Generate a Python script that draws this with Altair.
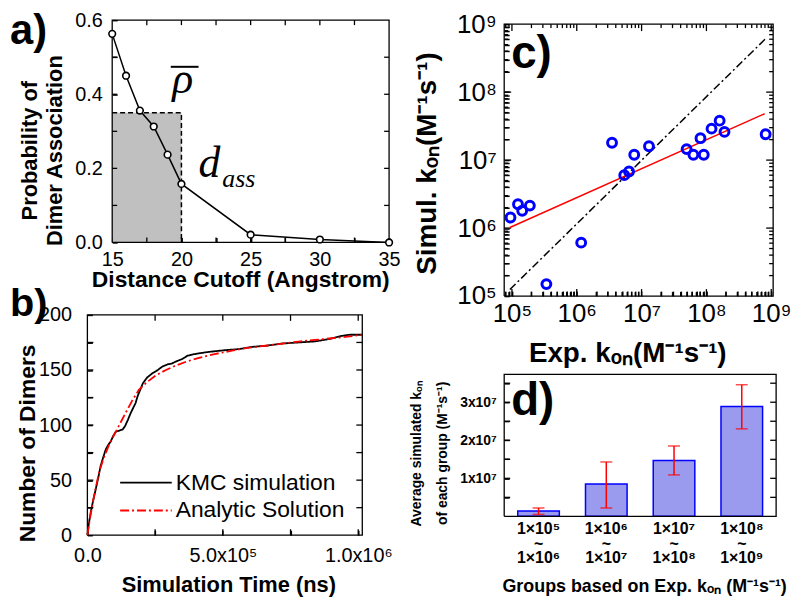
import altair as alt
import pandas as pd

SANS = "Liberation Sans"
SERIF = "Liberation Serif"

# ---------------- data ----------------
# panel a
a_cutoff = [15, 16, 17, 18, 19, 20, 25, 30, 35]
a_prob = [0.563, 0.450, 0.356, 0.313, 0.237, 0.158, 0.021, 0.008, 0.0]
a_box_x = [15, 20, 20]
a_box_y = [0.35, 0.35, 0.0]
a_xticks = [15, 17.5, 20, 22.5, 25, 27.5, 30, 32.5, 35]
a_yticks = [0.0, 0.1, 0.2, 0.3, 0.4, 0.5, 0.6]
a_extent_x = [15, 35]
a_extent_y = [0.0, 0.6]

# panel b
b_series = ["KMC simulation", "Analytic Solution"]
b_kmc_t = [0, 5e3, 1.25e4, 2e4, 3.1e4, 4e4, 4.9e4, 6e4, 6.8e4, 7.7e4,
           8.6e4, 9.5e4, 1.05e5, 1.18e5, 1.3e5, 1.39e5, 1.5e5, 1.6e5, 1.7e5, 1.78e5,
           1.85e5, 1.95e5, 2.05e5, 2.2e5, 2.4e5, 2.6e5, 2.76e5, 2.95e5, 3.13e5, 3.3e5,
           3.5e5, 3.7e5, 3.87e5, 4.1e5, 4.36e5, 4.7e5, 5.1e5, 5.6e5, 6.08e5, 6.6e5,
           7.18e5, 7.8e5, 8.42e5, 8.9e5, 9.4e5, 9.7e5, 1.015e6]
b_kmc_n = [0, 10, 21, 30, 42, 52, 63, 72, 78, 82,
           85, 90, 94, 95, 96, 99, 105, 111, 116, 120,
           126, 132, 138, 143, 147, 150, 153, 155, 156, 158,
           160, 163, 164, 165, 166, 167, 168, 169, 171, 172,
           174, 175, 176, 178, 181, 182, 182]
b_ana_t = [0, 1e4, 2e4, 3e4, 4.3e4, 6e4, 8e4, 1.05e5, 1.41e5, 1.65e5,
           1.9e5, 2.2e5, 2.52e5, 2.9e5, 3.26e5, 3.7e5, 4.12e5, 4.7e5, 5.34e5, 5.9e5,
           6.57e5, 7.2e5, 7.8e5, 8.4e5, 9.03e5, 9.6e5, 1.013e6]
b_ana_n = [0, 16, 30, 42, 57, 70, 82, 94, 111, 122,
           132, 139, 145, 150, 154, 158, 161, 164.5, 167.5, 170,
           172, 174, 175.8, 177.3, 178.8, 180.3, 181.8]
b_xticks = [0, 2.5e5, 5e5, 7.5e5, 1e6]
b_yticks = [0, 25, 50, 75, 100, 125, 150, 175, 200]
b_extent_x = [0, 1.015e6]
b_extent_y = [0, 200]

# panel c
c_exp = [9.5e4, 1.24e5, 1.44e5, 1.89e5, 3.4e5, 1.17e6, 3.5e6, 5.4e6, 6.4e6, 7.7e6,
         1.3e7, 4.95e7, 6.3e7, 8.1e7, 9.1e7, 1.2e8, 1.6e8, 1.9e8, 8.2e8]
c_sim = [1.43e6, 2.24e6, 1.8e6, 2.14e6, 1.5e5, 6.1e5, 1.8e7, 6.0e6, 6.8e6, 1.2e7,
         1.6e7, 1.45e7, 1.2e7, 2.1e7, 1.2e7, 2.9e7, 3.8e7, 2.6e7, 2.4e7]
c_fit_x = [9.3e4, 7.9e8]
c_fit_y = [1.02e6, 4.8e7]
c_diag_x = [9.3e4, 8.6e8]
c_diag_y = [1.25e5, 6.4e8]
c_major = [1e5, 1e6, 1e7, 1e8, 1e9]
c_xticks = [8e4, 9e4] + [k * 10 ** d for d in range(5, 9) for k in range(1, 10)] + [1e9]
c_yticks = [k * 10 ** d for d in range(5, 9) for k in range(1, 10)] + [1e9]
c_extent_x = [7.6e4, 1.07e9]
c_extent_y = [1e5, 1e9]

# panel d
d_groups = ["1×10⁵|~|1×10⁶", "1×10⁶|~|1×10⁷", "1×10⁷|~|1×10⁸", "1×10⁸|~|1×10⁹"]
d_mean = [1.4e6, 8.5e6, 1.47e7, 2.89e7]
d_low = [0.5e6, 2.2e6, 1.09e7, 2.30e7]
d_high = [2.2e6, 1.43e7, 1.85e7, 3.46e7]
d_yticks = [0.5e7, 1e7, 1.5e7, 2e7, 2.5e7, 3e7, 3.5e7]
d_extent_y = [0, 3.73e7]

# ---------------- helpers ----------------
dummy = pd.DataFrame({"k": [0]})


def decor_frame(xs, ys, xt, yt, xlen, ylen):
    """Outline + inward ticks as short polylines (one path per id).
    xlen(v, edge)/ylen(v, edge) give the inner end of a tick at value v."""
    rows = []
    cx = [xs[0], xs[1], xs[1], xs[0], xs[0]]
    cy = [ys[0], ys[0], ys[1], ys[1], ys[0]]
    for i, (px, py) in enumerate(zip(cx, cy)):
        rows.append(dict(x=px, y=py, id="frame", o=i))
    n = 0
    for v in xt:
        if xs[0] < v < xs[1]:
            for edge in (0, 1):
                rows.append(dict(x=v, y=ys[edge], id=f"t{n}", o=0))
                rows.append(dict(x=v, y=ylen(v, edge), id=f"t{n}", o=1))
                n += 1
    for v in yt:
        if ys[0] < v < ys[1]:
            for edge in (0, 1):
                rows.append(dict(x=xs[edge], y=v, id=f"t{n}", o=0))
                rows.append(dict(x=xlen(v, edge), y=v, id=f"t{n}", o=1))
                n += 1
    return pd.DataFrame(rows)


def decor_layer(df, sx, sy, xax, yax):
    return alt.Chart(df).mark_line(color="black", strokeWidth=1.3).encode(
        x=alt.X("x:Q", scale=sx, axis=xax), y=alt.Y("y:Q", scale=sy, axis=yax),
        detail="id:N", order="o:Q")


def label(txt, x, y, size, font=SANS, weight="bold", style="normal", align="left"):
    return alt.Chart(dummy).mark_text(text=txt, font=font, fontSize=size, fontWeight=weight,
                                      fontStyle=style, align=align, baseline="alphabetic",
                                      color="black").encode(x=alt.value(x), y=alt.value(y))


def xaxis(title, size, tx, ty, lsize, lpad, weight="normal", ticks=True, **kw):
    extra = dict(ticks=True, tickSize=5, tickWidth=1.5, tickColor="#000000", tickOpacity=1,
                 offset=-5) if ticks else dict(ticks=False)
    return alt.Axis(title=title, titleFont=SANS, titleFontSize=size, titleFontWeight="bold",
                    titleColor="black", titleX=tx, titleY=ty, titleBaseline="alphabetic",
                    titleAlign="center", labelFont=SANS, labelFontSize=lsize,
                    labelFontWeight=weight, labelColor="black", labelPadding=lpad,
                    domain=False, grid=False, orient="bottom", **extra, **kw)


def yaxis(title, size, tx, ty, lsize, lpad, weight="normal", offset=-5, **kw):
    return alt.Axis(title=title, titleFont=SANS, titleFontSize=size, titleFontWeight="bold",
                    titleColor="black", titleX=tx, titleY=ty, titleBaseline="bottom",
                    titleAlign="center", titleAngle=270, labelFont=SANS, labelFontSize=lsize,
                    labelFontWeight=weight, labelColor="black", labelPadding=lpad,
                    ticks=True, tickSize=5, tickWidth=1.5, tickColor="#000000", tickOpacity=1,
                    offset=offset, domain=False, grid=False, orient="left", **kw)


# ---------------- panel a ----------------
AW, AH = 304, 224
ax = alt.Scale(domain=a_extent_x, range=[25, AW], nice=False, zero=False)
ay = alt.Scale(domain=a_extent_y, nice=False, zero=False)
a_xaxis = xaxis("Distance Cutoff (Angstrom)", 23, 154, 49, 20, 7, values=a_xticks,
                labelFlush=False, labelOverlap=False,
                labelExpr="datum.value % 5 == 0 ? format(datum.value, 'd') : ''")
a_yaxis = yaxis(["Probability of", "Dimer Association"], 22, -76, 131, 20, 10,
                titleLineHeight=25, values=a_yticks, offset=-30, labelFlush=False,
                labelOverlap=False,
                labelExpr="round(datum.value * 10) % 2 == 0 ? format(datum.value, '.1f') : ''")
a_px = (a_extent_x[1] - a_extent_x[0]) / (AW - 25)
a_py = (a_extent_y[1] - a_extent_y[0]) / AH
a_decor = decor_frame(
    a_extent_x, a_extent_y, a_xticks, a_yticks,
    lambda v, e: a_extent_x[e] + (5 * a_px if e == 0 else -5 * a_px),
    lambda v, e: a_extent_y[e] + (5 * a_py if e == 0 else -5 * a_py))

a_df = pd.DataFrame({"x": a_cutoff, "y": a_prob})
a_rect = alt.Chart(pd.DataFrame({"x": [a_box_x[0]], "x2": [a_box_x[1]], "y": [0.0],
                                 "y2": [a_box_y[0]]})).mark_rect(color="#c0c0c0").encode(
    x=alt.X("x:Q", scale=ax, axis=a_xaxis), x2="x2:Q",
    y=alt.Y("y:Q", scale=ay, axis=a_yaxis), y2="y2:Q")
a_dash = alt.Chart(pd.DataFrame({"x": a_box_x, "y": a_box_y, "o": [0, 1, 2]})).mark_line(
    color="black", strokeWidth=1.5, strokeDash=[5, 3]).encode(
    x=alt.X("x:Q", scale=ax, axis=a_xaxis), y=alt.Y("y:Q", scale=ay, axis=a_yaxis),
    order="o:Q")
a_line = alt.Chart(a_df).mark_line(color="black", strokeWidth=1.5).encode(
    x=alt.X("x:Q", scale=ax, axis=a_xaxis), y=alt.Y("y:Q", scale=ay, axis=a_yaxis))
a_pts = alt.Chart(a_df).mark_circle(fill="white", stroke="black", strokeWidth=1.6, size=45,
                                    opacity=1).encode(
    x=alt.X("x:Q", scale=ax, axis=a_xaxis), y=alt.Y("y:Q", scale=ay, axis=a_yaxis))
a_bar = alt.Chart(dummy).mark_rule(color="black", strokeWidth=2).encode(
    x=alt.value(84), x2=alt.value(112), y=alt.value(47))

panel_a = alt.layer(
    a_rect, a_dash, decor_layer(a_decor, ax, ay, a_xaxis, a_yaxis), a_line, a_pts,
    label("ρ", 96, 73, 44, font=SERIF, weight="normal", style="italic", align="center"),
    a_bar,
    label("d", 112, 158, 44, font=SERIF, weight="normal", style="italic"),
    label("ass", 136, 168, 26, font=SERIF, weight="normal", style="italic"),
    label("a)", -78, 24, 42),
).properties(width=AW, height=AH)

# ---------------- panel b ----------------
BW, BH = 277, 222
bx = alt.Scale(domain=b_extent_x, nice=False, zero=False)
by = alt.Scale(domain=b_extent_y, nice=False, zero=False)
b_xaxis = xaxis("Simulation Time (ns)", 22, 142, 62, 20, 10, values=b_xticks,
                labelFlush=False, labelOverlap=False,
                labelExpr="datum.value == 0 ? '0.0' : (datum.value == 500000 ? '5.0x10⁵' : "
                          "(datum.value == 1000000 ? '1.0x10⁶' : ''))")
b_yaxis = yaxis("Number of Dimers", 23, -53, 129, 20, 16, values=b_yticks,
                labelFlush=False, labelOverlap=False,
                labelExpr="datum.value % 50 == 0 ? format(datum.value, 'd') : ''")
b_px = (b_extent_x[1] - b_extent_x[0]) / BW
b_py = (b_extent_y[1] - b_extent_y[0]) / BH
b_decor = decor_frame(
    b_extent_x, b_extent_y, b_xticks, b_yticks,
    lambda v, e: b_extent_x[e] + (6 * b_px if e == 0 else -6 * b_px),
    lambda v, e: b_extent_y[e] + (6 * b_py if e == 0 else -6 * b_py))
b_df = pd.DataFrame({
    "x": b_kmc_t + b_ana_t,
    "y": b_kmc_n + b_ana_n,
    "s": [b_series[0]] * len(b_kmc_t) + [b_series[1]] * len(b_ana_t),
})
leg = dict(orient="none", legendX=45, legendY=155, title=None, symbolType="M-2,0H2",
           symbolSize=676, symbolStrokeWidth=2, labelFont=SANS, labelFontSize=23,
           labelColor="black", labelOffset=16, labelLimit=400, rowPadding=2, padding=0)
b_lines = alt.Chart(b_df).mark_line(strokeWidth=1.8).encode(
    x=alt.X("x:Q", scale=bx, axis=b_xaxis),
    y=alt.Y("y:Q", scale=by, axis=b_yaxis),
    color=alt.Color("s:N", scale=alt.Scale(domain=b_series, range=["black", "#ff0000"]),
                    legend=alt.Legend(**leg)),
    strokeDash=alt.StrokeDash("s:N", scale=alt.Scale(domain=b_series,
                                                     range=[[1, 0], [9, 3, 2, 3]]),
                              legend=alt.Legend(**leg)),
)
panel_b = alt.layer(
    decor_layer(b_decor, bx, by, b_xaxis, b_yaxis),
    b_lines,
    label("b)", -78, 1, 40),
).properties(width=BW, height=BH)

# ---------------- panel c ----------------
CW, CH = 271, 278
cx = alt.Scale(type="log", domain=c_extent_x, nice=False)
cy = alt.Scale(type="log", domain=c_extent_y, range=[CH, 4], nice=False)
sup = ("datum.value == 100000 ? '10⁵' : (datum.value == 1000000 ? '10⁶' : "
       "(datum.value == 10000000 ? '10⁷' : (datum.value == 100000000 ? '10⁸' : "
       "(datum.value == 1000000000 ? '10⁹' : ''))))")
c_xaxis = xaxis("Exp. kₒₙ(M⁻¹s⁻¹)", 28, 124, 71, 26, 5, values=c_xticks, labelExpr=sup,
                labelFlush=False, labelOverlap=False)
c_yaxis = yaxis("Simul. kₒₙ(M⁻¹s⁻¹)", 28, -68, 144, 26, 8, values=c_yticks, labelExpr=sup,
                labelFlush=False, labelOverlap=False)
c_dx = (c_extent_x[1] / c_extent_x[0]) ** (1.0 / CW)   # per-pixel factor
c_dy = (c_extent_y[1] / c_extent_y[0]) ** (1.0 / (CH - 4))


def c_len(v, e, base, f):
    n = 7 if v in c_major else 4
    return base[e] * (f ** n if e == 0 else f ** -n)


c_decor = decor_frame(c_extent_x, c_extent_y, c_xticks, c_yticks,
                      lambda v, e: c_len(v, e, c_extent_x, c_dx),
                      lambda v, e: c_len(v, e, c_extent_y, c_dy))
c_pts_df = pd.DataFrame({"x": c_exp, "y": c_sim})
c_diag = alt.Chart(pd.DataFrame({"x": c_diag_x, "y": c_diag_y})).mark_line(
    color="black", strokeWidth=1.5, strokeDash=[8, 3, 2, 3]).encode(
    x=alt.X("x:Q", scale=cx, axis=c_xaxis), y=alt.Y("y:Q", scale=cy, axis=c_yaxis))
c_fit = alt.Chart(pd.DataFrame({"x": c_fit_x, "y": c_fit_y})).mark_line(
    color="#ff0000", strokeWidth=1.5).encode(
    x=alt.X("x:Q", scale=cx, axis=c_xaxis), y=alt.Y("y:Q", scale=cy, axis=c_yaxis))
c_pts = alt.Chart(c_pts_df).mark_point(shape="circle", filled=False, color="#0000ff",
                                       strokeWidth=3, size=80, opacity=1).encode(
    x=alt.X("x:Q", scale=cx, axis=c_xaxis), y=alt.Y("y:Q", scale=cy, axis=c_yaxis))
panel_c = alt.layer(
    decor_layer(c_decor, cx, cy, c_xaxis, c_yaxis),
    c_diag, c_fit, c_pts,
    label("c)", 7, 48, 46),
).properties(width=CW, height=CH)

# ---------------- panel d ----------------
DW, DH = 274, 203
dx = alt.Scale(domain=d_groups, paddingInner=0.386, paddingOuter=0.2)
dy = alt.Scale(domain=d_extent_y, range=[DH, 60], nice=False, zero=True)
d_xaxis = xaxis("Groups based on Exp. kₒₙ (M⁻¹s⁻¹)", 18, 141, 76, 16, 4, weight="bold",
                ticks=False, labelExpr="split(datum.label, '|')", labelLineHeight=15,
                labelAngle=0)
d_yaxis = yaxis(["Average simulated kₒₙ", "of each group (M⁻¹s⁻¹)"], 14, -86, 139, 14, 8,
                weight="bold", titleLineHeight=26, values=d_yticks, labelOverlap=False,
                labelExpr="datum.value == 10000000 ? '1x10⁷' : (datum.value == 20000000 ? "
                          "'2x10⁷' : (datum.value == 30000000 ? '3x10⁷' : ''))")
d_df = pd.DataFrame({"g": d_groups, "y": d_mean, "lo": d_low, "hi": d_high})
d_bars = alt.Chart(d_df).mark_bar(fill="#9a9aee", stroke="#0000ff", strokeWidth=1.5).encode(
    x=alt.X("g:N", scale=dx, sort=None, axis=d_xaxis),
    y=alt.Y("y:Q", scale=dy, axis=d_yaxis))
d_err = alt.Chart(d_df).mark_rule(color="#ff0000", strokeWidth=1.5).encode(
    x=alt.X("g:N", scale=dx, sort=None, axis=d_xaxis),
    y=alt.Y("lo:Q", scale=dy, axis=d_yaxis), y2="hi:Q")
d_cap_lo = alt.Chart(d_df).mark_tick(color="#ff0000", size=12, thickness=1.5).encode(
    x=alt.X("g:N", scale=dx, sort=None, axis=d_xaxis), y=alt.Y("lo:Q", scale=dy, axis=d_yaxis))
d_cap_hi = alt.Chart(d_df).mark_tick(color="#ff0000", size=12, thickness=1.5).encode(
    x=alt.X("g:N", scale=dx, sort=None, axis=d_xaxis), y=alt.Y("hi:Q", scale=dy, axis=d_yaxis))
d_inner = alt.layer(d_bars, d_err, d_cap_lo, d_cap_hi, label("d)", 7, 101, 46))

# frame of panel d on its own unit x scale (0 = left edge, 1 = right edge)
d_ux = alt.Scale(domain=[0, 1], nice=False, zero=False)
d_py = (d_extent_y[1] - d_extent_y[0]) / (DH - 60)
d_decor = decor_frame([0, 1], d_extent_y, [], d_yticks,
                      lambda v, e: (6.0 / DW) if e == 0 else 1 - 6.0 / DW,
                      lambda v, e: v)
d_frame = alt.Chart(d_decor).mark_line(color="black", strokeWidth=1.3).encode(
    x=alt.X("x:Q", scale=d_ux, axis=None), y=alt.Y("y:Q", scale=dy, axis=d_yaxis),
    detail="id:N", order="o:Q")
panel_d = alt.layer(d_inner, d_frame).resolve_scale(x="independent").properties(
    width=DW, height=DH)

chart = alt.concat(
    panel_a, panel_c, panel_b, panel_d,
    columns=2, spacing={"row": 19, "column": 116}, bounds="flush",
).resolve_scale(
    color="independent", strokeDash="independent"
).resolve_legend(
    color="independent", strokeDash="independent"
).properties(padding={"left": 2, "top": 0, "right": 0, "bottom": 0},
             background="white").configure_view(stroke=None)

chart.save("out.html", embed_options={"renderer": "svg", "actions": False})
